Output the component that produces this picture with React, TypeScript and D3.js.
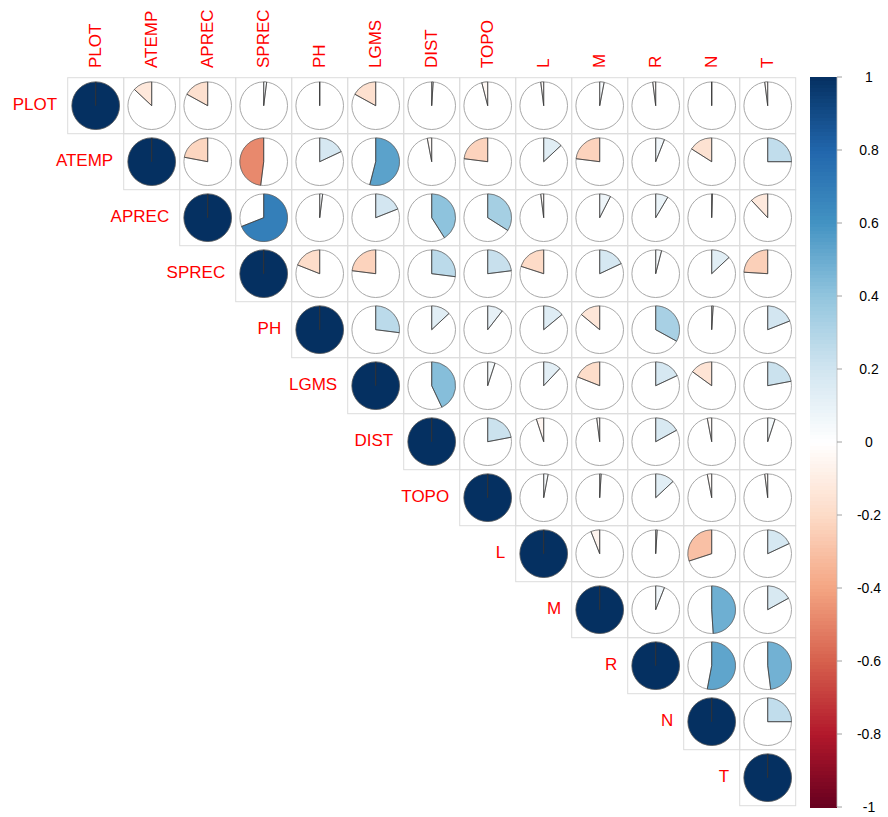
import React from "react";
import * as d3 from "d3";

const variables = ["PLOT", "ATEMP", "APREC", "SPREC", "PH", "LGMS", "DIST", "TOPO", "L", "M", "R", "N", "T"];

// upper-triangle correlations, each row starting at the diagonal
const corrPLOT = [1, -0.13, -0.17, 0.02, 0.0, -0.17, 0.01, -0.04, -0.02, 0.03, -0.02, 0.0, -0.02];
const corrATEMP = [1, -0.22, -0.48, 0.18, 0.54, -0.03, -0.23, 0.13, -0.23, 0.06, -0.16, 0.25];
const corrAPREC = [1, 0.69, 0.02, 0.19, 0.41, 0.34, -0.02, 0.075, 0.085, 0.005, -0.12];
const corrSPREC = [1, -0.19, -0.23, 0.27, 0.23, -0.2, 0.18, 0.04, 0.13, -0.24];
const corrPH = [1, 0.27, 0.13, 0.105, 0.14, -0.14, 0.33, 0.01, 0.19];
const corrLGMS = [1, 0.43, 0.05, 0.12, -0.19, 0.18, -0.15, 0.22];
const corrDIST = [1, 0.22, -0.05, -0.02, 0.17, -0.03, 0.05];
const corrTOPO = [1, 0.03, 0.01, 0.13, -0.03, -0.02];
const corrL = [1, -0.06, 0.01, -0.3, 0.18];
const corrM = [1, 0.06, 0.49, 0.17];
const corrR = [1, 0.53, 0.48];
const corrN = [1, 0.25];
const corrT = [1];

const legendTicks = [1, 0.8, 0.6, 0.4, 0.2, 0, -0.2, -0.4, -0.6, -0.8, -1];
const paletteColors = ["#67001F", "#B2182B", "#D6604D", "#F4A582", "#FDDBC7", "#FFFFFF", "#D1E5F0", "#92C5DE", "#4393C3", "#2166AC", "#053061"];

const rows = [corrPLOT, corrATEMP, corrAPREC, corrSPREC, corrPH, corrLGMS, corrDIST, corrTOPO, corrL, corrM, corrR, corrN, corrT];

const W = 888;
const H = 817;
const gridLeft = 67.7;
const gridTop = 77.7;
const cell = 56;
const font = "'Liberation Sans', Arial, Helvetica, sans-serif";

export default function App() {
  const n = variables.length;
  const x = d3.scaleBand<string>().domain(variables).range([gridLeft, gridLeft + n * cell]);
  const y = d3.scaleBand<string>().domain(variables).range([gridTop, gridTop + n * cell]);
  const color = d3
    .scaleLinear<string>()
    .domain(d3.range(paletteColors.length).map((i) => -1 + (2 * i) / (paletteColors.length - 1)))
    .range(paletteColors)
    .interpolate(d3.interpolateRgb);
  const legendY = d3.scaleLinear().domain([-1, 1]).range([807, 77]);
  const rad = cell * 0.425;
  const arc = d3.arc<any>().innerRadius(0).outerRadius(rad);

  const cells: { row: string; col: string; r: number }[] = [];
  rows.forEach((vals, i) => {
    vals.forEach((r, k) => {
      cells.push({ row: variables[i], col: variables[i + k], r });
    });
  });

  const nSteps = 200;
  const steps = d3.range(nSteps).map((i) => -1 + (2 * (i + 0.5)) / nSteps);
  const stepH = (legendY(-1) - legendY(1)) / nSteps;

  return (
    <svg width={W} height={H} style={{ position: "absolute", left: 0, top: 0, background: "#fff" }}>
      <rect x={0} y={0} width={W} height={H} fill="#fff" />
      {/* grid */}
      {cells.map((c, i) => (
        <rect
          key={"g" + i}
          x={x(c.col)!}
          y={y(c.row)!}
          width={cell}
          height={cell}
          fill="none"
          stroke="#DCDCDC"
          strokeWidth={1}
        />
      ))}
      {/* pies */}
      {cells.map((c, i) => {
        const cx = x(c.col)! + cell / 2;
        const cy = y(c.row)! + cell / 2;
        const ang = c.r * 2 * Math.PI;
        const ex = cx + rad * Math.sin(ang);
        const ey = cy - rad * Math.cos(ang);
        return (
          <g key={"p" + i}>
            <circle cx={cx} cy={cy} r={rad} fill="#fff" stroke="#A8A8A8" strokeWidth={1} />
            <path
              d={arc({ startAngle: 0, endAngle: ang })!}
              transform={`translate(${cx},${cy})`}
              fill={color(c.r)}
              stroke="#555"
              strokeWidth={0.6}
            />
            <line x1={cx} y1={cy} x2={cx} y2={cy - rad} stroke="#333" strokeWidth={0.7} />
            <line x1={cx} y1={cy} x2={ex} y2={ey} stroke="#333" strokeWidth={0.7} />
          </g>
        );
      })}
      {/* column labels */}
      {variables.map((v) => (
        <text
          key={"c" + v}
          transform={`translate(${x(v)! + cell / 2 + 5},68) rotate(-90)`}
          fontFamily={font}
          fontSize={17}
          fill="#FF0000"
          textAnchor="start"
        >
          {v}
        </text>
      ))}
      {/* row labels */}
      {variables.map((v) => (
        <text
          key={"r" + v}
          x={x(v)! - 10.5}
          y={y(v)! + cell / 2 + 4.5}
          fontFamily={font}
          fontSize={17}
          fill="#FF0000"
          textAnchor="end"
        >
          {v}
        </text>
      ))}
      {/* color legend */}
      <g shapeRendering="crispEdges">
        {steps.map((s, i) => (
          <rect
            key={"l" + i}
            x={810}
            y={legendY(s) - stepH / 2 - 0.5}
            width={27}
            height={stepH + 1}
            fill={color(s)}
          />
        ))}
      </g>
      <line x1={837} y1={legendY(1)} x2={837} y2={legendY(-1)} stroke="#BBB" strokeWidth={0.8} />
      {legendTicks.map((t) => (
        <g key={"t" + t}>
          <line x1={837} x2={842} y1={legendY(t)} y2={legendY(t)} stroke="#888" strokeWidth={0.8} />
          <text
            x={869}
            y={legendY(t) + 5}
            fontFamily={font}
            fontSize={14}
            fill="#000"
            textAnchor="middle"
          >
            {String(t)}
          </text>
        </g>
      ))}
    </svg>
  );
}
